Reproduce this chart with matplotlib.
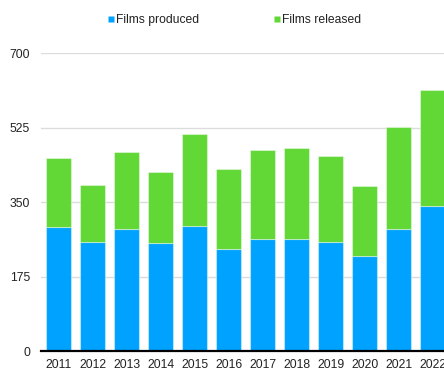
import matplotlib
matplotlib.use("Agg")
import matplotlib.pyplot as plt
from matplotlib.lines import Line2D
import numpy as np

years = ["2011", "2012", "2013", "2014", "2015", "2016",
         "2017", "2018", "2019", "2020", "2021", "2022"]
films_produced = [292, 256, 288, 254, 294, 241, 264, 264, 256, 223, 288, 342]
films_released = [161, 135, 181, 168, 216, 188, 209, 213, 202, 166, 239, 272]
y_ticks = [0, 175, 350, 525, 700]

BLUE = "#00A2FF"
GREEN = "#61D836"
TEXT = "#222222"

plt.rcParams["font.family"] = ["Liberation Sans", "DejaVu Sans"]
plt.rcParams["font.size"] = 8.7

W, H = 444, 372
fig = plt.figure(figsize=(W / 100, H / 100), dpi=100)
ax = fig.add_axes([41 / W, 21 / H, 408.7 / W, 297.7 / H])

x = np.arange(len(years))
edge = (1, 1, 1, 0.4)
ax.bar(x, films_produced, width=0.72, color=BLUE, edgecolor=edge,
       linewidth=0.8, zorder=3)
ax.bar(x, films_released, width=0.72, bottom=films_produced, color=GREEN,
       edgecolor=edge, linewidth=0.8, zorder=3)

ax.set_xlim(-0.52, 11.5)
ax.set_ylim(0, 700)
ax.set_yticks(y_ticks)
ax.set_yticklabels([str(v) for v in y_ticks])
ax.set_xticks(x)
ax.set_xticklabels(years)

for v in y_ticks[1:]:
    ax.axhline(v, color="#dcdcdc", linewidth=1.0, zorder=1)
ax.axhline(0, color="black", linewidth=1.6, zorder=4, clip_on=False)

for s in ax.spines.values():
    s.set_visible(False)
ax.tick_params(axis="both", length=0, colors=TEXT, labelsize=8.7)
ax.tick_params(axis="y", pad=8)
ax.tick_params(axis="x", pad=5.5)

handles = [
    Line2D([], [], linestyle="none", marker="s", markersize=4,
           markerfacecolor=BLUE, markeredgecolor="none"),
    Line2D([], [], linestyle="none", marker="s", markersize=4,
           markerfacecolor=GREEN, markeredgecolor="none"),
]
fig.legend(handles, ["Films produced", "Films released"], loc="center",
           bbox_to_anchor=(234.5 / W, 1 - 20 / H), ncol=2, frameon=False,
           handlelength=0.45, handletextpad=0.2, columnspacing=6.2,
           labelcolor=TEXT, fontsize=8.7)

fig.savefig("out.png", dpi=100)
